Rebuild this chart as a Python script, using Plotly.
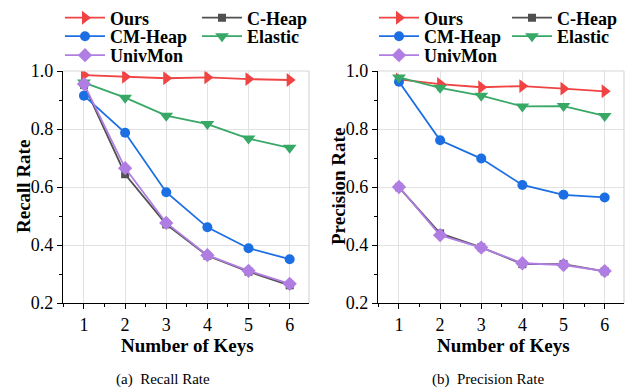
import plotly.graph_objects as go

keys = [1, 2, 3, 4, 5, 6]
series_names = ["Ours", "C-Heap", "CM-Heap", "Elastic", "UnivMon"]

recall_ours = [0.986, 0.980, 0.975, 0.978, 0.972, 0.969]
recall_cheap = [0.952, 0.644, 0.471, 0.363, 0.308, 0.261]
recall_cmheap = [0.915, 0.787, 0.582, 0.461, 0.389, 0.351]
recall_elastic = [0.960, 0.908, 0.846, 0.817, 0.767, 0.735]
recall_univmon = [0.955, 0.665, 0.476, 0.365, 0.311, 0.266]

prec_ours = [0.971, 0.955, 0.944, 0.948, 0.939, 0.930]
prec_cheap = [0.599, 0.440, 0.392, 0.334, 0.334, 0.309]
prec_cmheap = [0.963, 0.761, 0.698, 0.607, 0.573, 0.564]
prec_elastic = [0.978, 0.942, 0.915, 0.878, 0.879, 0.845]
prec_univmon = [0.600, 0.434, 0.391, 0.337, 0.331, 0.310]

y_ticks = [0.2, 0.4, 0.6, 0.8, 1.0]
y_ticktext = ["0.2", "0.4", "0.6", "0.8", "1.0"]

styles = {
    "Ours": dict(color="#f04343", symbol="triangle-right", size=12),
    "C-Heap": dict(color="#505050", symbol="square", size=8),
    "CM-Heap": dict(color="#1c6fe3", symbol="circle", size=10),
    "Elastic": dict(color="#38a866", symbol="triangle-down", size=12),
    "UnivMon": dict(color="#b07ee2", symbol="diamond", size=11),
}

# page body has an 8px margin: the figure is drawn from (8, 8) in the window
OFF = 8
W, H = 635 - OFF, 392 - OFF
FONT = "Liberation Serif"


def px(p):
    return (p - OFF) / W


def py(p):
    return 1 - (p - OFF) / H


fig = go.Figure()

panels = [
    ("x", "y", [recall_ours, recall_cheap, recall_cmheap, recall_elastic, recall_univmon], 0),
    ("x2", "y2", [prec_ours, prec_cheap, prec_cmheap, prec_elastic, prec_univmon], 1),
]

# legend cell positions (window pixels): item start x per panel/column, row center y
col_px = [[60, 197], [374, 507]]
row_px = [18, 36.5, 55.5]
cell = {"Ours": (0, 0), "C-Heap": (1, 0), "CM-Heap": (0, 1), "Elastic": (1, 1), "UnivMon": (0, 2)}

legend_layouts = {}
li = 0
for xa, ya, data, pi in panels:
    for name, vals in zip(series_names, data):
        li += 1
        lid = "legend" if li == 1 else f"legend{li}"
        st = styles[name]
        fig.add_trace(go.Scatter(
            x=keys, y=vals, name=name, mode="lines+markers",
            xaxis=xa, yaxis=ya, legend=lid,
            line=dict(color=st["color"], width=1.8),
            marker=dict(color=st["color"], symbol=st["symbol"], size=st["size"]),
        ))
        c, r = cell[name]
        legend_layouts[lid] = dict(
            x=px(col_px[pi][c]), y=py(row_px[r]),
            xanchor="left", yanchor="middle", orientation="h",
            itemwidth=40,
            bgcolor="rgba(0,0,0,0)", borderwidth=0,
            font=dict(family=FONT, size=18, color="black", weight="bold"),
        )

xdoms = [[px(63), px(309)], [px(378), px(624)]]
ydom = [py(303), py(71)]

axis_common = dict(
    showline=True, linecolor="black", linewidth=1.2,
    ticks="outside", ticklen=5, tickcolor="black", tickwidth=1,
    showgrid=True, gridcolor="#e2e2e2", gridwidth=1.2,
    zeroline=False, automargin=False,
    tickfont=dict(family=FONT, size=18, color="black"),
)

layout = dict(
    width=W, height=H,
    margin=dict(l=0, r=0, t=0, b=0, autoexpand=False),
    paper_bgcolor="white", plot_bgcolor="white",
    showlegend=True,
)
for i, (xa, ya) in enumerate([("xaxis", "yaxis"), ("xaxis2", "yaxis2")]):
    layout[xa] = dict(axis_common, domain=xdoms[i], range=[0.49, 6.47],
                      tickvals=keys, anchor="y" if i == 0 else "y2",
                      minor=dict(ticks="outside", ticklen=3, tickcolor="black", dtick=0.5, tick0=0.5, showgrid=False))
    layout[ya] = dict(axis_common, domain=ydom, range=[0.2, 1.0],
                      tickvals=y_ticks, ticktext=y_ticktext, anchor="x" if i == 0 else "x2",
                      minor=dict(ticks="outside", ticklen=3, tickcolor="black", dtick=0.1, tick0=0.1, showgrid=False))
layout.update(legend_layouts)
fig.update_layout(**layout)

# light top/right frame
for xr, yr in [("x domain", "y domain"), ("x2 domain", "y2 domain")]:
    fig.add_shape(type="line", xref=xr, yref=yr, x0=0, x1=1, y0=1, y1=1,
                  line=dict(color="#d8d8d8", width=1.2))
    fig.add_shape(type="line", xref=xr, yref=yr, x0=1, x1=1, y0=0, y1=1,
                  line=dict(color="#d8d8d8", width=1.2))

# axis titles and captions
ann = []
for cx, capx, cap in [(187, 163, "(a)  Recall Rate"), (503, 488, "(b)  Precision Rate")]:
    ann.append(dict(text="<b>Number of Keys</b>", x=px(cx), y=py(345), xref="paper", yref="paper",
                    showarrow=False, xanchor="center", yanchor="middle",
                    font=dict(family=FONT, size=19, color="black")))
    ann.append(dict(text=cap, x=px(capx), y=py(379), xref="paper", yref="paper",
                    showarrow=False, xanchor="center", yanchor="middle",
                    font=dict(family=FONT, size=15, color="black")))
ann.append(dict(text="<b>Recall Rate</b>", x=px(24), y=py(187), xref="paper", yref="paper",
                showarrow=False, textangle=-90, xanchor="center", yanchor="middle",
                font=dict(family=FONT, size=19, color="black")))
ann.append(dict(text="<b>Precision Rate</b>", x=px(339), y=py(187), xref="paper", yref="paper",
                showarrow=False, textangle=-90, xanchor="center", yanchor="middle",
                font=dict(family=FONT, size=19, color="black")))
fig.update_layout(annotations=ann)

fig.write_html("out.html")
